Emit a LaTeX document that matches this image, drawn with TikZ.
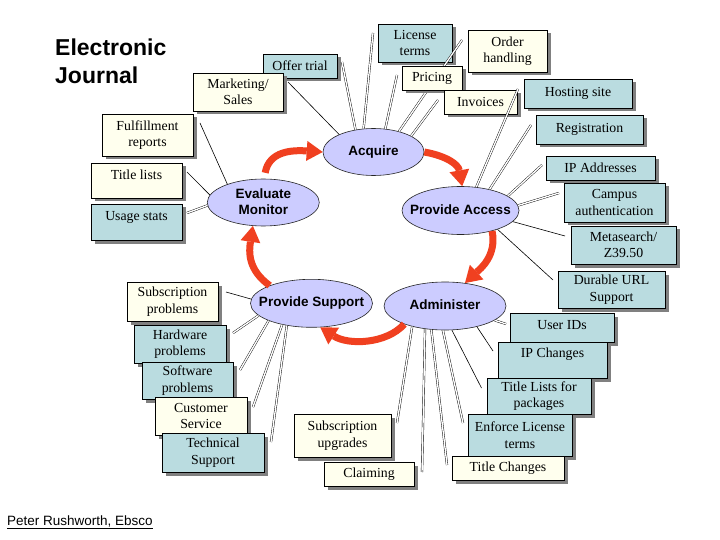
\documentclass[tikz,border=0pt]{standalone}
\usepackage{fontspec}
\setmainfont{Liberation Serif}
\setsansfont{Liberation Sans}
\usetikzlibrary{shapes.geometric,shadows,arrows.meta}
\definecolor{boxblue}{RGB}{186,220,224}
\definecolor{boxcream}{RGB}{255,255,238}
\definecolor{ellfill}{RGB}{204,204,255}
\definecolor{arrred}{RGB}{240,64,32}
\newcommand{\elltxt}[1]{\raisebox{-4pt}[0pt][0pt]{\makebox[0pt]{\begin{tabular}{@{}c@{}}#1\end{tabular}}}}
\newcommand{\liftxt}[2]{\raisebox{#1}[\height][\depth]{#2}}
\begin{document}
\begin{tikzpicture}[x=1pt,y=-1pt,
  bx/.style={draw=black, line width=0.7pt, inner sep=0pt, align=center,
    font=\fontsize{13.8}{16.5}\selectfont,
    drop shadow={shadow xshift=3.5pt,shadow yshift=-3.5pt,fill=black!50,opacity=1}},
  bl/.style={bx, fill=boxblue},
  cr/.style={bx, fill=boxcream},
  ell/.style={ellipse, draw=black!85, line width=0.6pt, fill=ellfill, inner sep=0pt,
    font=\sffamily\bfseries\fontsize{13.5}{16}\selectfont},
  dl/.style={line width=0.4pt, double=white, double distance=1.4pt},
  sl/.style={line width=0.6pt},
  cyc/.style={draw=arrred, line width=7pt, -{Triangle[length=16pt,width=20pt,line width=0pt]}}
]
\useasboundingbox (0,0) rectangle (720,540);
\fill[white] (0,0) rectangle (720,540);

% title and author
\node[anchor=north west, inner sep=0pt, align=left,
  font=\sffamily\bfseries\fontsize{23}{28}\selectfont] (title) at (55,39) {Electronic\\Journal};
\node[anchor=base west, inner sep=0pt, font=\sffamily\fontsize{13.5}{16}\selectfont]
  (author) at (7,525) {\underline{Peter Rushworth, Ebsco}};

% cycle ellipses
\node[ell, minimum width=101pt, minimum height=47pt] (acq) at (373.5,152) {\elltxt{Acquire}};
\node[ell, minimum width=112pt, minimum height=47pt] (eva) at (263.3,202.5) {\elltxt{Evaluate\\Monitor}};
\node[ell, minimum width=117pt, minimum height=48pt] (acc) at (460.5,210.5) {\elltxt{Provide Access}};
\node[ell, minimum width=122pt, minimum height=48pt] (sup) at (311.5,303.3) {\elltxt{Provide Support}};
\node[ell, minimum width=122pt, minimum height=48pt] (adm) at (445,306) {\elltxt{Administer}};

% free ends of connectors
\coordinate (eOffer) at (342,62);
\coordinate (eMkt) at (288,82);
\coordinate (eLic) at (373,33);
\coordinate (ePri) at (397,75);
\coordinate (eOrd) at (462,40);
\coordinate (eInv) at (438,100);
\coordinate (eHost) at (518,89);
\coordinate (eReg) at (531,125);
\coordinate (eIpa) at (542,165);
\coordinate (eCam) at (559,193);
\coordinate (eMeta) at (565,236);
\coordinate (eDur) at (553,280);
\coordinate (eUid) at (506,324);
\coordinate (eIpc) at (493,351);
\coordinate (eTlp) at (481.5,388);
\coordinate (eEnf) at (463,423);
\coordinate (eTch) at (447,465);
\coordinate (eClm) at (422,472);
\coordinate (eSub) at (397,423);
\coordinate (eSpr) at (226,292);
\coordinate (eHw) at (233,333);
\coordinate (eSw) at (240,370);
\coordinate (eCs) at (253,407);
\coordinate (eTs) at (271,442);
\coordinate (eFul) at (200,123);
\coordinate (eTl) at (187,172);
\coordinate (eUs) at (187,213);

% boxes
\node[bl, minimum width=74pt, minimum height=24pt] (offer) at (300,66) {Offer trial};
\node[cr, minimum width=90pt, minimum height=38pt] (mkt) at (238,92) {Marketing/\\Sales};
\node[cr, minimum width=91pt, minimum height=42pt] (ful) at (147.5,135) {Fulfillment\\reports};
\node[cr, minimum width=91pt, minimum height=35pt] (tl) at (136.5,180.5) {\liftxt{6pt}{Title lists}};
\node[bl, minimum width=91pt, minimum height=36pt] (us) at (136.5,222) {\liftxt{5pt}{Usage stats}};
\node[bl, minimum width=74pt, minimum height=38pt] (lic) at (415,43) {License\\terms};
\node[cr, minimum width=79pt, minimum height=42pt] (ord) at (507.5,51) {Order\\handling};
\draw[dl] (eOrd) -- (acq.39);
\node[cr, minimum width=60pt, minimum height=24pt] (pri) at (432,78) {Pricing};
\node[cr, minimum width=73pt, minimum height=24pt] (inv) at (480.5,102) {Invoices};
\node[bl, minimum width=108pt, minimum height=29pt] (host) at (578,93.5) {Hosting site};
\node[bl, minimum width=107pt, minimum height=29pt] (reg) at (589.5,129.5) {Registration};
\node[bl, minimum width=109pt, minimum height=24pt] (ipa) at (600.5,168) {IP Addresses};
\node[bl, minimum width=101pt, minimum height=39pt] (cam) at (614.5,202.5) {Campus\\authentication};
\node[bl, minimum width=105pt, minimum height=38pt] (meta) at (623.5,245) {Metasearch/\\Z39.50};
\node[bl, minimum width=107pt, minimum height=37pt] (dur) at (611.5,289.5) {Durable URL\\Support};
\node[bl, minimum width=104pt, minimum height=29pt] (uid) at (562,327.5) {\liftxt{2pt}{User IDs}};
\node[bl, minimum width=109pt, minimum height=36pt] (ipc) at (552.5,360) {\liftxt{6pt}{IP Changes}};
\node[bl, minimum width=104pt, minimum height=36pt] (tlp) at (539,396) {Title Lists for\\packages};
\node[bl, minimum width=104pt, minimum height=42pt] (enf) at (520,435) {Enforce License\\terms};
\node[cr, minimum width=112pt, minimum height=24pt] (tch) at (508,468) {Title Changes};
\node[cr, minimum width=97pt, minimum height=43pt] (sub) at (342.5,435.5) {Subscription\\upgrades};
\node[cr, minimum width=90pt, minimum height=24pt] (clm) at (369,474) {Claiming};
\node[cr, minimum width=91pt, minimum height=39pt] (spr) at (172.5,301.5) {Subscription\\problems};
\node[bl, minimum width=92pt, minimum height=38pt] (hw) at (180,344) {Hardware\\problems};
\node[bl, minimum width=91pt, minimum height=37pt] (sw) at (187.5,380.5) {Software\\problems};
\node[cr, minimum width=92pt, minimum height=38pt] (cs) at (201,416) {Customer\\Service};
\node[bl, minimum width=102pt, minimum height=39pt] (ts) at (213,452.5) {Technical\\Support};

% connectors
\draw[dl] (eOffer) -- (acq.129);
\draw[sl] (eMkt) -- (acq.153);
\draw[dl] (eLic) -- (acq.113);
\draw[dl] (ePri) -- (acq.63);
\draw[dl] (eInv) -- (acq.23);
\draw[dl] (eHost) -- (acc.56);
\draw[dl] (eReg) -- (acc.36);
\draw[dl] (eIpa) -- (acc.17);
\draw[dl] (eCam) -- (acc.5);
\draw[sl] (eMeta) -- (acc.-12);
\draw[sl] (eDur) -- (acc.-27);
\draw[dl] (eUid) -- (adm.-16);
\draw[sl] (eIpc) -- (adm.-33);
\draw[sl] (eTlp) -- (adm.-74);
\draw[dl] (eEnf) -- (adm.-95);
\draw[dl] (eTch) -- (adm.-120);
\draw[dl] (eClm) -- (adm.-131);
\draw[dl] (eSub) -- (adm.-148);
\draw[sl] (eSpr) -- (sup.176);
\draw[dl] (eHw) -- (sup.193);
\draw[dl] (eSw) -- (sup.202);
\draw[dl] (eCs) -- (sup.216);
\draw[dl] (eTs) -- (sup.222);
\draw[sl] (eFul) -- (eva.153);
\draw[sl] (eTl) -- (eva.172);
\draw[dl] (eUs) -- (eva.183);

% red cycle arrows
\draw[cyc, shorten <=6pt] (eva.88) .. controls +(5,-28) and +(-30,-2) .. (acq.180);
\draw[cyc] (acq.0) .. controls +(22,4) and +(-4,-22) .. (acc.86);
\draw[cyc] (acc.-33) .. controls +(5,25) and +(15,-14) .. (adm.49);
\draw[cyc] (adm.204) .. controls +(-18,20) and +(28,18) .. (sup.-70);
\draw[cyc] (sup.157) .. controls +(-22,-16) and +(-4,26) .. (eva.-114);
\end{tikzpicture}
\end{document}
